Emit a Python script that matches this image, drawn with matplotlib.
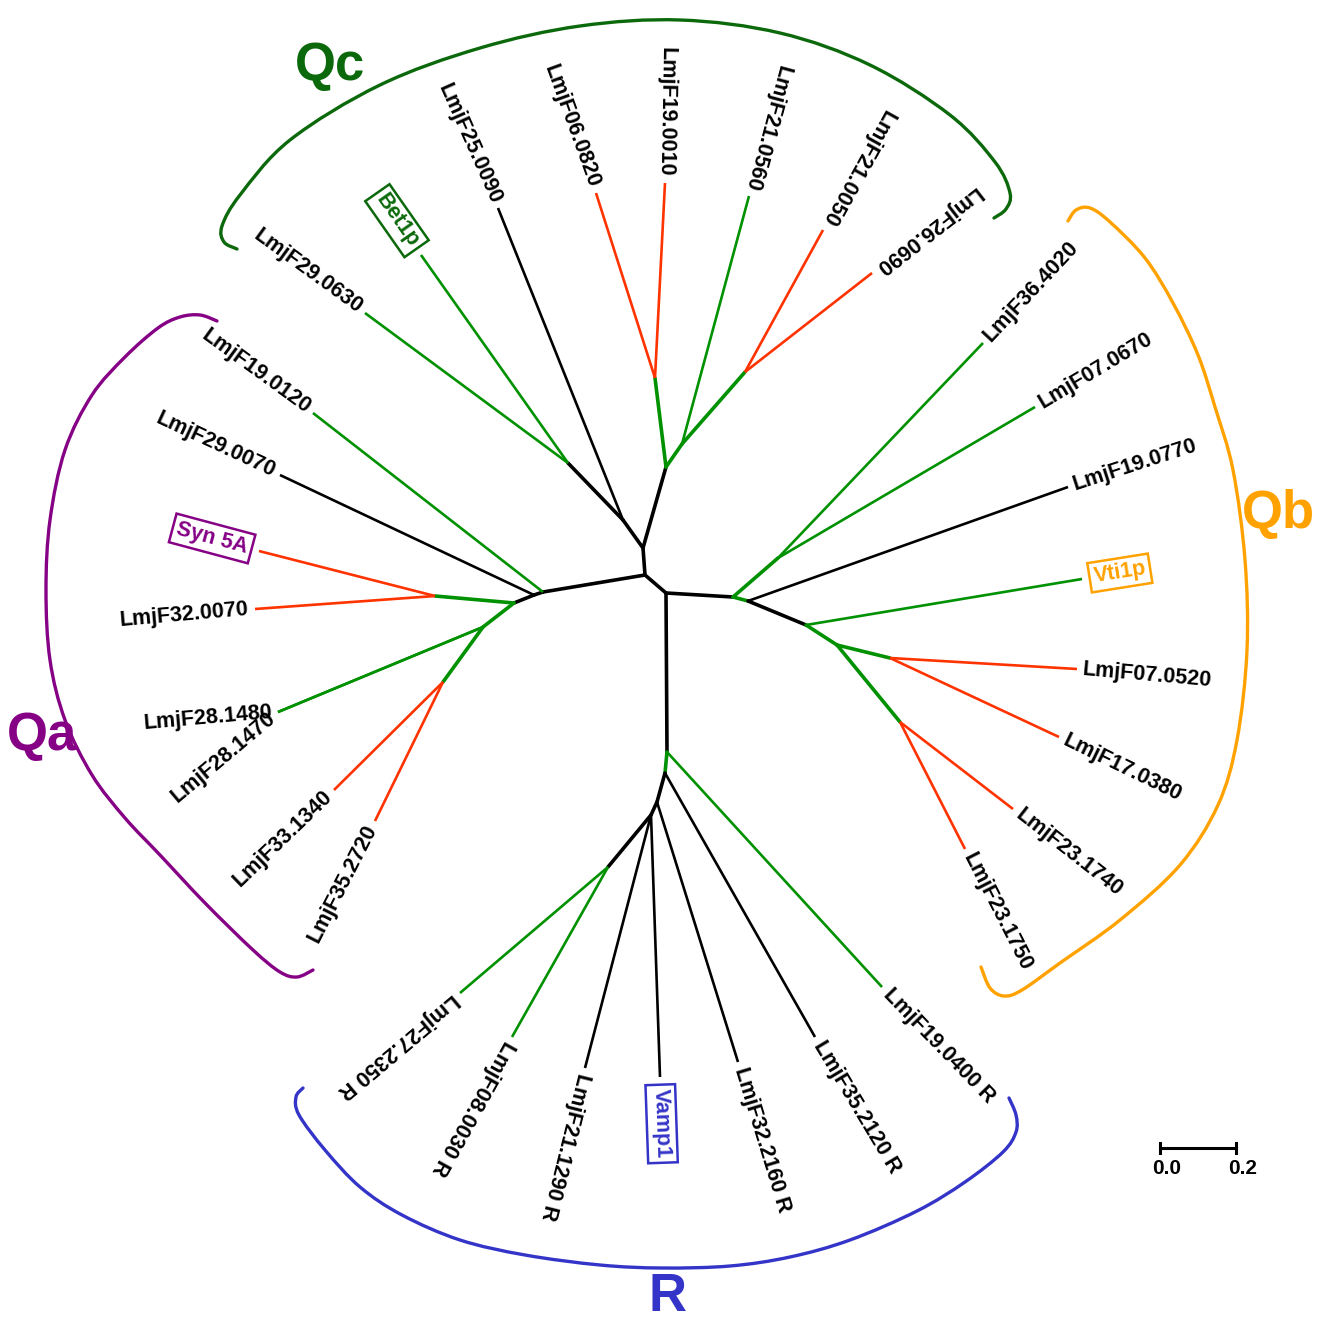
import numpy as np
import matplotlib
matplotlib.use("Agg")
import matplotlib.pyplot as plt
from matplotlib.path import Path
from matplotlib.patches import PathPatch

plt.rcParams['font.family'] = ['Liberation Sans', 'DejaVu Sans']
plt.rcParams['font.weight'] = 'bold'

GREEN = '#009100'
RED = '#ff3300'
BLACK = '#000000'
clade_colors = {'Qa': '#850085', 'Qb': '#ffa200', 'Qc': '#0b690b', 'R': '#3434c8'}

# internal nodes of the unrooted tree (layout, pixel units)
node_names = ['C1', 'C2', 'CT',
              'QA0', 'QA1', 'QA2', 'QA3', 'QA4', 'QA5',
              'QB0', 'QB1', 'QB2', 'QB3', 'QB4', 'QB5', 'QB6',
              'QC1', 'QC2', 'QC3', 'QC4', 'QC5', 'QC6',
              'R0', 'R1', 'R2', 'R3', 'R4']
node_x = [645, 666, 643,
          543, 534, 514, 435, 483, 443,
          733, 778, 748, 806, 837, 890, 900,
          623, 568, 666, 655, 682, 745,
          667, 665, 657, 651, 608]
node_y = [575, 593, 548,
          592, 595, 603, 596, 627, 682,
          597, 558, 601, 625, 645, 658, 722,
          520, 463, 467, 378, 444, 372,
          752, 773, 802, 815, 867]

# internal edges
edge_parent = ['C1', 'C1', 'C1', 'QA0', 'QA1', 'QA2', 'QA2', 'QA4',
               'C2', 'QB0', 'QB0', 'QB2', 'QB3', 'QB4', 'QB4',
               'CT', 'QC1', 'CT', 'QC3', 'QC3', 'QC5',
               'C2', 'R0', 'R1', 'R2', 'R3']
edge_child = ['C2', 'CT', 'QA0', 'QA1', 'QA2', 'QA3', 'QA4', 'QA5',
              'QB0', 'QB1', 'QB2', 'QB3', 'QB4', 'QB5', 'QB6',
              'QC1', 'QC2', 'QC3', 'QC4', 'QC5', 'QC6',
              'R0', 'R1', 'R2', 'R3', 'R4']
edge_color = [BLACK, BLACK, BLACK, BLACK, BLACK, GREEN, GREEN, GREEN,
              BLACK, GREEN, GREEN, BLACK, GREEN, GREEN, GREEN,
              BLACK, BLACK, BLACK, GREEN, GREEN, GREEN,
              BLACK, GREEN, BLACK, BLACK, BLACK]

# leaves
tip_labels = ['LmjF19.0120', 'LmjF29.0070', 'Syn 5A', 'LmjF32.0070', 'LmjF28.1480',
              'LmjF28.1470', 'LmjF33.1340', 'LmjF35.2720',
              'LmjF29.0630', 'Bet1p', 'LmjF25.0090', 'LmjF06.0820', 'LmjF19.0010',
              'LmjF21.0560', 'LmjF21.0050', 'LmjF26.0690',
              'LmjF36.4020', 'LmjF07.0670', 'LmjF19.0770', 'Vti1p', 'LmjF07.0520',
              'LmjF17.0380', 'LmjF23.1740', 'LmjF23.1750',
              'LmjF19.0400 R', 'LmjF35.2120 R', 'LmjF32.2160 R', 'Vamp1',
              'LmjF21.1290 R', 'LmjF08.0030 R', 'LmjF27.2350 R']
tip_parent = ['QA0', 'QA1', 'QA3', 'QA3', 'QA4', 'QA4', 'QA5', 'QA5',
              'QC2', 'QC2', 'QC1', 'QC4', 'QC4', 'QC5', 'QC6', 'QC6',
              'QB1', 'QB1', 'QB2', 'QB3', 'QB5', 'QB5', 'QB6', 'QB6',
              'R0', 'R1', 'R2', 'R3', 'R3', 'R4', 'R4']
tip_x = [313, 280, 259, 255, 278, 278, 334, 375,
         365, 421, 498, 596, 665, 749, 823, 872,
         983, 1035, 1068, 1082, 1077, 1059, 1013, 965,
         882, 815, 738, 660, 585, 512, 460]
tip_y = [413, 475, 551, 609, 712, 712, 790, 821,
         313, 255, 208, 193, 183, 196, 230, 273,
         343, 407, 487, 579, 669, 737, 809, 849,
         987, 1037, 1062, 1077, 1068, 1037, 993]
tip_color = [GREEN, BLACK, RED, RED, GREEN, GREEN, RED, RED,
             GREEN, GREEN, BLACK, RED, RED, GREEN, RED, RED,
             GREEN, GREEN, BLACK, GREEN, RED, RED, RED, RED,
             GREEN, BLACK, BLACK, BLACK, BLACK, GREEN, GREEN]
tip_angle = [-36, -25, -15, 5, 5, 40, 44, 63,
             -36, -55, -66, -70, -91, -105, -119, -142,
             47, 31, 18, 9, -5, -26, -38, -63,
             -46, -59, -73, -88, -104, -119, -140]
tip_clade = ['Qa'] * 8 + ['Qc'] * 8 + ['Qb'] * 8 + ['R'] * 7
boxed = ['Syn 5A', 'Bet1p', 'Vti1p', 'Vamp1']

# clade brackets
bracket_pts = {
    'Qc': [(237, 249), (224, 242), (222, 226), (240, 195), (290, 140), (380, 85),
           (480, 48), (580, 26), (680, 20), (780, 33), (870, 65), (950, 115),
           (995, 162), (1010, 193), (1006, 209), (994, 218)],
    'Qb': [(1068, 221), (1076, 210), (1090, 208), (1110, 222), (1145, 258),
           (1173, 303), (1198, 355), (1215, 407), (1233, 470), (1245, 560),
           (1247, 650), (1237, 740), (1218, 805), (1180, 865), (1120, 920),
           (1060, 963), (1022, 990), (1004, 996), (990, 988), (981, 967)],
    'Qa': [(217, 321), (200, 315), (180, 317), (158, 328), (125, 357),
           (92, 395), (65, 450), (50, 520), (46, 590), (50, 660), (65, 720),
           (92, 775), (125, 818), (160, 855), (205, 903), (253, 950),
           (280, 972), (297, 977), (313, 970)],
    'R': [(303, 1088), (296, 1097), (299, 1115), (325, 1150), (360, 1187),
          (402, 1215), (460, 1240), (525, 1255), (600, 1265), (662, 1268),
          (730, 1266), (790, 1257), (850, 1240), (917, 1211), (965, 1182),
          (1003, 1152), (1016, 1132), (1016, 1115), (1009, 1098)],
}
clade_label_pos = {'Qc': (330, 80), 'Qb': (1278, 528), 'Qa': (42, 750), 'R': (667, 1311)}

scale_values = [0.0, 0.2]


def smooth_path(pts):
    p = np.asarray(pts, float)
    p = np.vstack([p[0], p, p[-1]])
    verts = [p[1]]
    codes = [Path.MOVETO]
    for i in range(1, len(p) - 2):
        c1 = p[i] + (p[i + 1] - p[i - 1]) / 6
        c2 = p[i + 1] - (p[i + 2] - p[i]) / 6
        verts += [c1, c2, p[i + 1]]
        codes += [Path.CURVE4] * 3
    return Path(verts, codes)


fig = plt.figure(figsize=(13.23, 13.21), dpi=100)
ax = fig.add_axes([0, 0, 1, 1])
ax.set_xlim(0, 1323)
ax.set_ylim(1321, 0)
ax.axis('off')

pos = {n: (x, y) for n, x, y in zip(node_names, node_x, node_y)}

for p, c, col in zip(edge_parent, edge_child, edge_color):
    ax.plot([pos[p][0], pos[c][0]], [pos[p][1], pos[c][1]], color=col, lw=2.6,
            solid_capstyle='round', zorder=2)

for lab, par, x, y, col, ang, cl in zip(tip_labels, tip_parent, tip_x, tip_y,
                                        tip_color, tip_angle, tip_clade):
    ax.plot([pos[par][0], x], [pos[par][1], y], color=col, lw=1.9,
            solid_capstyle='butt', zorder=2)
    d = np.array([np.cos(np.radians(ang)), -np.sin(np.radians(ang))])
    outward = cl in ('Qb', 'R')
    gap = 12 if lab in boxed else 6
    ax_, ay_ = (np.array([x, y]) + gap * d) if outward else (np.array([x, y]) - gap * d)
    kw = dict(rotation=ang, rotation_mode='anchor', va='center',
              ha='left' if outward else 'right', fontsize=15.5, fontweight='bold',
              zorder=3)
    if lab in boxed:
        ccol = clade_colors[cl]
        ax.text(ax_, ay_, lab, color=ccol,
                bbox=dict(boxstyle='square,pad=0.2', fc='white', ec=ccol, lw=1.8),
                **kw)
    else:
        ax.text(ax_, ay_, lab, color='black', **kw)

for cl, pts in bracket_pts.items():
    ax.add_patch(PathPatch(smooth_path(pts), fill=False, ec=clade_colors[cl],
                           lw=2.4, capstyle='round', zorder=1))
    lx, ly = clade_label_pos[cl]
    ax.text(lx, ly, cl, color=clade_colors[cl], fontsize=38, fontweight='bold',
            ha='center', va='baseline')

# scale bar
px_per_unit = 380
sx = [1160 + px_per_unit * v for v in scale_values]
ax.plot(sx, [1148, 1148], color='black', lw=2.2)
for x, v in zip(sx, scale_values):
    ax.plot([x, x], [1143, 1153], color='black', lw=2.2)
    ax.text(x + 7, 1168, f'{v:.1f}', ha='center', va='center', fontsize=15,
            fontweight='bold')

fig.savefig('out.png', dpi=100)
